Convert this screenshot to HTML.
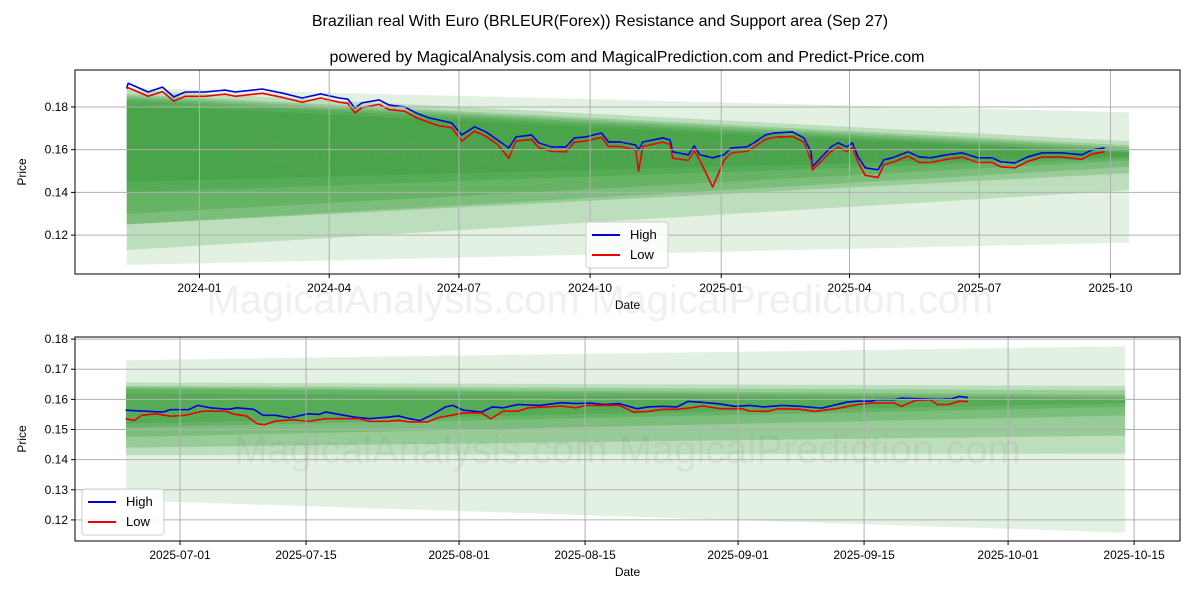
<!DOCTYPE html>
<html><head><meta charset="utf-8"><style>
body{margin:0;background:#fff;}
svg{display:block;font-family:"Liberation Sans","DejaVu Sans",sans-serif;}
</style></head><body>
<svg id="chart" width="1200" height="600" xmlns="http://www.w3.org/2000/svg">
<rect width="1200" height="600" fill="#fff"/>
<text x="600" y="26" text-anchor="middle" font-size="16">Brazilian real With Euro (BRLEUR(Forex)) Resistance and Support area (Sep 27)</text>
<text x="627" y="62" text-anchor="middle" font-size="16">powered by MagicalAnalysis.com and MagicalPrediction.com and Predict-Price.com</text>
<g id="top"></g>
<g id="bot"></g>
</svg>
<script>
// ---- Top panel data (days since 2024-01-01) ----
const topDays=[-51,-50,-36,-26,-18,-10,4,18,25,44,58,72,85,98,104,109,114,126,133,144,152,161,168,177,184,193,201,209,217,222,233,238,247,257,263,271,282,287,295,306,308,311,325,330,332,343,347,351,360,368,373,384,389,397,403,416,424,429,430,443,448,454,458,462,467,476,480,486,497,505,513,524,535,546,556,562,572,581,591,605,619,626,635];
const topHigh=[0.1889,0.1911,0.1870,0.1893,0.1847,0.1870,0.1870,0.1879,0.1870,0.1884,0.1865,0.1842,0.1861,0.1842,0.1837,0.1795,0.1819,0.1833,0.1809,0.1800,0.1772,0.1749,0.1739,0.1725,0.1669,0.1707,0.1683,0.1646,0.1608,0.1660,0.1669,0.1632,0.1613,0.1613,0.1655,0.1660,0.1678,0.1636,0.1636,0.1622,0.1599,0.1636,0.1655,0.1646,0.1590,0.1576,0.1618,0.1576,0.1562,0.1576,0.1608,0.1613,0.1632,0.1669,0.1678,0.1683,0.1655,0.1590,0.1520,0.1613,0.1632,0.1613,0.1632,0.1566,0.1515,0.1506,0.1552,0.1562,0.1590,0.1566,0.1562,0.1576,0.1585,0.1562,0.1562,0.1543,0.1538,0.1566,0.1585,0.1585,0.1576,0.1599,0.1608];
const topLow=[0.1885,0.1890,0.1850,0.1872,0.1827,0.1850,0.1850,0.1860,0.1850,0.1864,0.1845,0.1822,0.1842,0.1822,0.1817,0.1772,0.1797,0.1812,0.1787,0.1780,0.1750,0.1727,0.1712,0.1703,0.1640,0.1687,0.1662,0.1625,0.1560,0.1640,0.1648,0.1610,0.1592,0.1590,0.1635,0.1640,0.1658,0.1615,0.1615,0.1600,0.1500,0.1615,0.1635,0.1625,0.1560,0.1550,0.1595,0.1550,0.1425,0.1550,0.1585,0.1592,0.1612,0.1648,0.1658,0.1662,0.1635,0.1550,0.1505,0.1592,0.1612,0.1590,0.1610,0.1540,0.1480,0.1470,0.1530,0.1540,0.1570,0.1540,0.1540,0.1555,0.1565,0.1540,0.1540,0.1520,0.1515,0.1545,0.1565,0.1565,0.1555,0.1580,0.1590];
// bands: start low, start high, end low, end high
const topBandStartLow=[0.106,0.113,0.125,0.125,0.130,0.140,0.145];
const topBandStartHigh=[0.189,0.188,0.186,0.185,0.184,0.183,0.181];
const topBandEndLow=[0.1165,0.141,0.149,0.152,0.155,0.156,0.157];
const topBandEndHigh=[0.1775,0.164,0.162,0.161,0.160,0.159,0.1585];
const topYTicks=[0.12,0.14,0.16,0.18];
const topXTickLabels=["2024-01","2024-04","2024-07","2024-10","2025-01","2025-04","2025-07","2025-10"];
const topXTickDays=[0,91,182,274,366,456,547,639];

// ---- Bottom panel data (days since 2025-07-01) ----
const botHighDays=[-6.05,-1.87,-1.06,0.95,1.99,3.36,5.37,6.33,8.18,9.23,10.59,12.2,14.21,15.42,16.22,18.23,19.44,21.05,23.06,24.26,25.47,26.67,27.88,29.49,30.29,31.5,33.51,34.71,35.92,37.53,39.94,42.35,43.96,45.57,47.18,48.78,50.79,52.0,53.61,55.22,56.42,57.63,59.64,61.65,63.26,64.86,66.87,68.88,71.3,74.11,75.32,76.92,77.33,79.34,80.14,82.15,84.16,85.77,86.57,87.54];
const botHigh=[0.1564,0.1558,0.1566,0.1566,0.1580,0.1572,0.1567,0.1572,0.1567,0.1547,0.1547,0.1539,0.1552,0.1550,0.1558,0.1547,0.1541,0.1536,0.1541,0.1545,0.1536,0.1530,0.1547,0.1575,0.1580,0.1564,0.1558,0.1575,0.1572,0.1583,0.1580,0.1589,0.1586,0.1588,0.1583,0.1586,0.1569,0.1575,0.1577,0.1575,0.1593,0.1591,0.1586,0.1577,0.1580,0.1575,0.1580,0.1577,0.1571,0.1591,0.1594,0.1594,0.1599,0.1599,0.1604,0.1602,0.1600,0.1602,0.1610,0.1606];
const botLowDays=[-6.05,-5.08,-4.28,-2.67,-1.06,0.54,2.55,4.97,6.17,7.38,8.58,9.39,10.59,12.6,14.21,16.22,18.23,19.84,21.05,23.06,24.26,25.47,27.48,28.68,31.5,33.51,34.55,35.92,37.53,38.73,40.74,42.35,43.96,45.17,46.77,48.78,50.39,52.0,53.61,55.22,56.82,58.03,60.04,62.45,63.26,65.27,66.47,68.88,70.49,72.9,75.32,76.92,79.34,80.14,81.75,83.36,84.16,85.37,86.57,87.54];
const botLow=[0.1536,0.1530,0.1547,0.1552,0.1544,0.1547,0.1561,0.1561,0.1550,0.1545,0.1519,0.1516,0.1528,0.1532,0.1527,0.1536,0.1536,0.1536,0.1527,0.1527,0.1530,0.1525,0.1525,0.1539,0.1555,0.1555,0.1536,0.1561,0.1561,0.1572,0.1575,0.1578,0.1572,0.1580,0.1580,0.1580,0.1558,0.1560,0.1567,0.1567,0.1572,0.1578,0.1569,0.1569,0.1561,0.1560,0.1569,0.1567,0.1560,0.1569,0.1583,0.1588,0.1588,0.1577,0.1597,0.1599,0.1583,0.1583,0.1594,0.1593];
const botBandStartLow=[0.1265,0.1415,0.144,0.1475,0.1507,0.152];
const botBandStartHigh=[0.173,0.1656,0.1645,0.164,0.1635,0.162];
const botBandEndLow=[0.1158,0.142,0.148,0.1547,0.1575,0.1587];
const botBandEndHigh=[0.1776,0.1645,0.163,0.1615,0.1607,0.1602];
const botYTicks=[0.12,0.13,0.14,0.15,0.16,0.17,0.18];
const botXTickLabels=["2025-07-01","2025-07-15","2025-08-01","2025-08-15","2025-09-01","2025-09-15","2025-10-01","2025-10-15"];
const botXTickDays=[0,14,31,45,62,76,92,106];

const NS="http://www.w3.org/2000/svg";
function mk(parent,tag,attrs,text){const e=document.createElementNS(NS,tag);for(const k in attrs)e.setAttribute(k,attrs[k]);if(text!==undefined)e.textContent=text;parent.appendChild(e);return e;}

function panel(g,cfg){
  const {L,R,T,B,d0,d1,p0,p1}=cfg;
  const X=d=>L+(d-d0)/(d1-d0)*(R-L);
  const Y=p=>B-(p-p0)/(p1-p0)*(B-T);
  const clipId=g.id+"clip";
  const cp=mk(g,"clipPath",{id:clipId});mk(cp,"rect",{x:L,y:T,width:R-L,height:B-T});
  const plot=mk(g,"g",{"clip-path":"url(#"+clipId+")"});
  for(let i=0;i<cfg.bsl.length;i++){
    const xs=X(cfg.bStart),xe=X(cfg.bEnd);
    const pts=[[xs,Y(cfg.bsh[i])],[xe,Y(cfg.beh[i])],[xe,Y(cfg.bel[i])],[xs,Y(cfg.bsl[i])]].map(p=>p.join(",")).join(" ");
    const poly=mk(plot,"polygon",{points:pts,fill:"#2a952a","fill-opacity":i===0?0.13:(i===1?0.2:0.26)});
    
    
  }
  cfg.yt.forEach(v=>{const l=mk(g,"line",{x1:L,x2:R,y1:Y(v),y2:Y(v),stroke:"#b0b0b0","stroke-width":1});
    
    mk(g,"line",{x1:L-4,x2:L,y1:Y(v),y2:Y(v),stroke:"#000"});
    const t=mk(g,"text",{x:L-7,y:Y(v)+4,"text-anchor":"end","font-size":12},v.toFixed(2));
    });
  cfg.xd.forEach((d,i)=>{const x=X(d);const l=mk(g,"line",{x1:x,x2:x,y1:T,y2:B,stroke:"#b0b0b0","stroke-width":1});
    
    mk(g,"line",{x1:x,x2:x,y1:B,y2:B+4,stroke:"#000"});
    const t=mk(g,"text",{x:x,y:B+18,"text-anchor":"middle","font-size":12},cfg.xl[i]);
    });
  const wm=mk(g,"text",{x:(L+R)/2,y:cfg.wmY,"text-anchor":"middle","font-size":40,fill:"#888","fill-opacity":0.13},"MagicalAnalysis.com    MagicalPrediction.com");
  
  const line=(ds,vs,col,name)=>{const p=mk(plot,"polyline",{points:ds.map((d,i)=>X(d)+","+Y(vs[i])).join(" "),fill:"none",stroke:col,"stroke-width":1.6,"stroke-linejoin":"round"});
    };
  line(cfg.hd,cfg.hv,"#0000dd","high-line");
  line(cfg.ld,cfg.lv,"#ee0000","low-line");
  mk(g,"rect",{x:L,y:T,width:R-L,height:B-T,fill:"none",stroke:"#000","stroke-width":1});
  const xt=mk(g,"text",{x:(L+R)/2,y:B+35,"text-anchor":"middle","font-size":12},"Date");
  
  const yt=mk(g,"text",{x:0,y:0,"text-anchor":"middle","font-size":12,transform:`translate(26,${(T+B)/2}) rotate(-90)`},"Price");
  
  const lg=mk(g,"g",{});
  
  const lx=cfg.lgX,ly=cfg.lgY;
  mk(lg,"rect",{x:lx,y:ly,width:82,height:46,rx:3,fill:"#fff","fill-opacity":0.85,stroke:"#ccc"});
  mk(lg,"line",{x1:lx+6,x2:lx+34,y1:ly+13,y2:ly+13,stroke:"#0000dd","stroke-width":2});
  mk(lg,"text",{x:lx+44,y:ly+17,"font-size":13},"High");
  mk(lg,"line",{x1:lx+6,x2:lx+34,y1:ly+33,y2:ly+33,stroke:"#ee0000","stroke-width":2});
  mk(lg,"text",{x:lx+44,y:ly+37,"font-size":13},"Low");
}

panel(document.getElementById("top"),{L:75,R:1180,T:70,B:274,d0:-87.3,d1:687.8,p0:0.1018,p1:0.1973,
  bStart:-51,bEnd:652,bsl:topBandStartLow,bsh:topBandStartHigh,bel:topBandEndLow,beh:topBandEndHigh,
  yt:topYTicks,xd:topXTickDays,xl:topXTickLabels,hd:topDays,hv:topHigh,ld:topDays,lv:topLow,wmY:163,lgX:586,lgY:222});
panel(document.getElementById("bot"),{L:75,R:1180,T:337,B:541,d0:-11.67,d1:111.1,p0:0.1130,p1:0.1807,
  bStart:-6,bEnd:105,bsl:botBandStartLow,bsh:botBandStartHigh,bel:botBandEndLow,beh:botBandEndHigh,
  yt:botYTicks,xd:botXTickDays,xl:botXTickLabels,hd:botHighDays,hv:botHigh,ld:botLowDays,lv:botLow,wmY:463,lgX:82,lgY:489});
const wm2=mk(document.getElementById("chart"),"text",{x:600,y:313,"text-anchor":"middle","font-size":40,fill:"#888","fill-opacity":0.13},"MagicalAnalysis.com    MagicalPrediction.com");


</script>
</body></html>
